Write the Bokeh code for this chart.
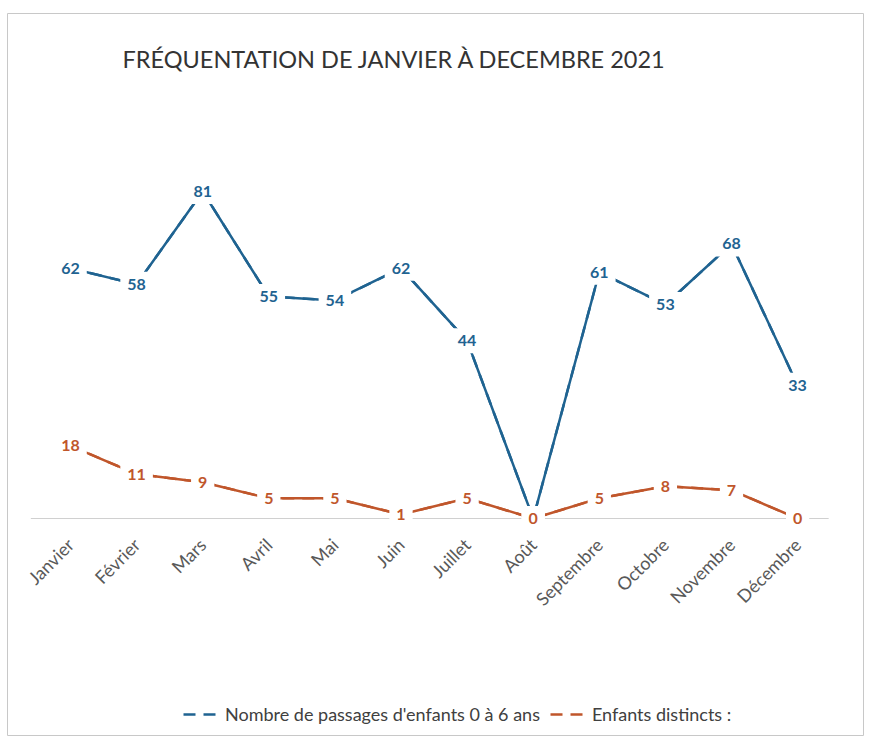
import math
from bokeh.plotting import figure
from bokeh.models import (Range1d, FixedTicker, ColumnDataSource, Label,
                          Legend, LegendItem)
from bokeh.core.properties import value
from bokeh.embed import file_html
from bokeh.resources import INLINE

months = ["Janvier", "Février", "Mars", "Avril", "Mai", "Juin", "Juillet",
          "Août", "Septembre", "Octobre", "Novembre", "Décembre"]
passages = [62, 58, 81, 55, 54, 62, 44, 0, 61, 53, 68, 33]
distincts = [18, 11, 9, 5, 5, 1, 5, 0, 5, 8, 7, 0]
title_text = "FRÉQUENTATION DE JANVIER À DECEMBRE 2021"
series_names = ["Nombre de passages d'enfants 0 à 6 ans", "Enfants distincts :"]

BLUE = "#1f6391"
ORANGE = "#c0562b"
FONT = "Lato"

xs = list(range(len(months)))

p = figure(width=864, height=736, output_backend="svg", toolbar_location=None,
           x_range=Range1d(-0.953, 12.012), y_range=Range1d(-54.0, 125.09),
           min_border=0, min_border_left=7, min_border_right=0,
           min_border_top=13, min_border_bottom=0)
p.grid.visible = False
p.yaxis.visible = False
p.outline_line_color = "#c8c8c8"
p.outline_line_width = 1
p.background_fill_color = "white"
p.border_fill_color = "white"

ax = p.xaxis[0]
ax.fixed_location = 0
ax.ticker = FixedTicker(ticks=xs)
ax.major_label_overrides = {i: m for i, m in enumerate(months)}
ax.axis_line_color = None
ax.major_tick_line_color = None
ax.minor_tick_line_color = None
ax.major_label_orientation = math.pi / 4
ax.major_label_standoff = 17
ax.major_label_text_font = FONT
ax.major_label_text_font_size = "18px"
ax.major_label_text_color = "#595959"

# category axis line
p.segment(x0=[-0.6], y0=[0], x1=[11.47], y1=[0], line_color="#d0d0d0", line_width=1)

src_b = ColumnDataSource(dict(x=xs, y=passages, t=[str(v) for v in passages]))
src_o = ColumnDataSource(dict(x=xs, y=distincts, t=[str(v) for v in distincts]))

# dashed proxies (hidden under the solid lines) give the legend its dashed symbols
lb = p.line("x", "y", source=src_b, line_color=BLUE, line_width=2.5, line_dash="12 8")
lo = p.line("x", "y", source=src_o, line_color=ORANGE, line_width=2.5, line_dash="12 8")

p.line("x", "y", source=src_b, line_color=BLUE, line_width=2.5)
p.line("x", "y", source=src_o, line_color=ORANGE, line_width=2.5)

for src, col in ((src_b, BLUE), (src_o, ORANGE)):
    p.text(x="x", y="y", text="t", source=src, text_align="center",
           text_baseline="middle", text_font=value(FONT), text_font_style="bold",
           text_font_size="16px", text_color=col,
           background_fill_color="white", background_fill_alpha=1.0,
           padding=7)

p.add_layout(Label(x=0.787, y=113.9, text=title_text, text_font=FONT,
                   text_font_size="23.5px", text_color="#333333",
                   text_baseline="middle", text_align="left"))

legend = Legend(items=[LegendItem(label=series_names[0], renderers=[lb]),
                       LegendItem(label=series_names[1], renderers=[lo])],
                orientation="horizontal", location=(176, 11),
                label_text_font=FONT, label_text_font_size="18px",
                label_text_color="#404040", glyph_width=37, label_standoff=5,
                spacing=10, padding=0, margin=0, border_line_color=None,
                background_fill_alpha=0)
p.add_layout(legend)

open("out.html", "w").write(file_html(p, INLINE))
